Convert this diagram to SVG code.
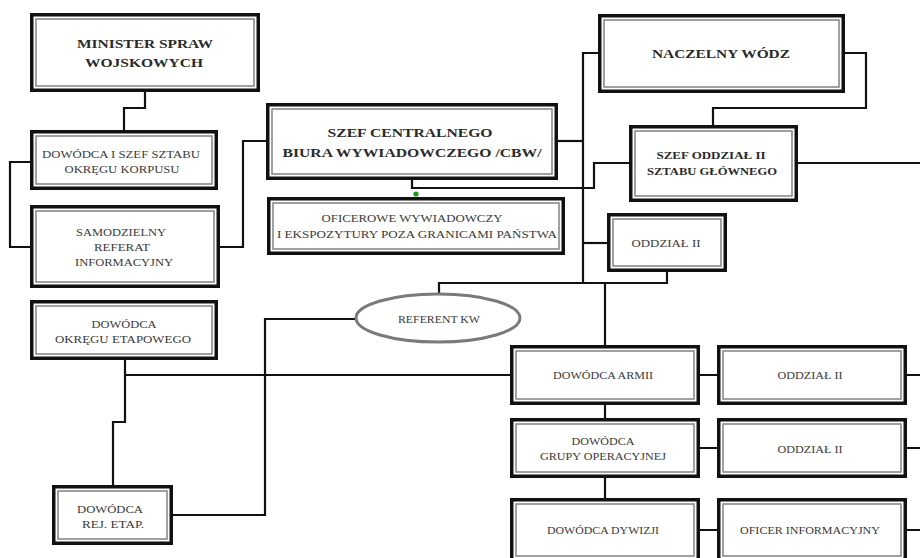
<svg xmlns="http://www.w3.org/2000/svg" width="920" height="558" viewBox="0 0 920 558">
  <style>
    .outer { fill: #ffffff; stroke: #111111; stroke-width: 3.5; }
    .inner { fill: none; stroke: #8a8a8a; stroke-width: 1.6; }
    .conn { fill: none; stroke: #111111; stroke-width: 2.2; stroke-linejoin: miter; }
    .t { font-family: "Liberation Serif", "Times New Roman", serif; font-size: 10.5px; fill: #3a3a3a; text-anchor: middle; }
    .b { font-weight: bold; font-size: 13px; fill: #2a2a2a; }
    .bs { font-weight: bold; font-size: 11px; fill: #2a2a2a; }
    .oval { fill: #ffffff; stroke: #7a7a7a; stroke-width: 3; }
  </style>

  <rect width="920" height="558" fill="#ffffff"/>

  <!-- connectors -->
  <g id="connectors">
    <path class="conn" d="M145,92 V108 H124 V130"/>
    <path class="conn" d="M30,162 H10 V247 H30"/>
    <path class="conn" d="M220,247 H243 V141 H266"/>
    <path class="conn" d="M558,141 H583"/>
    <path class="conn" d="M598,53 H583 V283"/>
    <path class="conn" d="M583,243 H607"/>
    <path class="conn" d="M845,53 H866 V108 H713 V125"/>
    <path class="conn" d="M798,163 H920"/>
    <path class="conn" d="M629,163 H594 V188 H412 V180"/>
    <path class="conn" d="M439,294 V283 H667 V272"/>
    <path class="conn" d="M605,283 V345"/>
    <path class="conn" d="M125,360 V422 H113 V485"/>
    <path class="conn" d="M125,375 H510"/>
    <path class="conn" d="M173,515 H265 V319 H356"/>
    <path class="conn" d="M700,375 H717 M907,375 H920"/>
    <path class="conn" d="M605,405 V418"/>
    <path class="conn" d="M700,448 H717 M907,448 H920"/>
    <path class="conn" d="M605,478 V498"/>
    <path class="conn" d="M700,530 H717 M907,530 H920"/>
    <circle cx="416" cy="194" r="2.6" fill="#1a9a1a"/>
  </g>

  <g id="minister">
    <rect class="outer" x="31.75" y="14.75" width="226.5" height="75.5"/>
    <rect class="inner" x="36" y="19" width="218" height="67"/>
    <text class="t b" x="145" y="48" textLength="136" lengthAdjust="spacingAndGlyphs">MINISTER SPRAW</text>
    <text class="t b" x="144" y="67" textLength="118" lengthAdjust="spacingAndGlyphs">WOJSKOWYCH</text>
  </g>

  <g id="dowodca-korpus">
    <rect class="outer" x="31.75" y="131.75" width="184.5" height="56.5"/>
    <rect class="inner" x="36" y="136" width="176" height="48"/>
    <text class="t" x="121" y="158" textLength="158" lengthAdjust="spacingAndGlyphs">DOWÓDCA I SZEF SZTABU</text>
    <text class="t" x="122" y="173" textLength="115" lengthAdjust="spacingAndGlyphs">OKRĘGU KORPUSU</text>
  </g>

  <g id="samodzielny-referat">
    <rect class="outer" x="31.75" y="206.75" width="186.5" height="79.5"/>
    <rect class="inner" x="36" y="211" width="178" height="71"/>
    <text class="t" x="121" y="236" textLength="90" lengthAdjust="spacingAndGlyphs">SAMODZIELNY</text>
    <text class="t" x="122" y="251" textLength="56" lengthAdjust="spacingAndGlyphs">REFERAT</text>
    <text class="t" x="124" y="266" textLength="98" lengthAdjust="spacingAndGlyphs">INFORMACYJNY</text>
  </g>

  <g id="dowodca-okregu-etapowego">
    <rect class="outer" x="31.75" y="301.75" width="184.5" height="56.5"/>
    <rect class="inner" x="36" y="306" width="176" height="48"/>
    <text class="t" x="124" y="328" textLength="65" lengthAdjust="spacingAndGlyphs">DOWÓDCA</text>
    <text class="t" x="123" y="343" textLength="136" lengthAdjust="spacingAndGlyphs">OKRĘGU ETAPOWEGO</text>
  </g>

  <g id="dowodca-rej-etap">
    <rect class="outer" x="53.75" y="486.75" width="117.5" height="56.5"/>
    <rect class="inner" x="58" y="491" width="109" height="48"/>
    <text class="t" x="110" y="513" textLength="66" lengthAdjust="spacingAndGlyphs">DOWÓDCA</text>
    <text class="t" x="113" y="528" textLength="62" lengthAdjust="spacingAndGlyphs">REJ. ETAP.</text>
  </g>

  <g id="szef-cbw">
    <rect class="outer" x="267.75" y="104.75" width="288.5" height="73.5"/>
    <rect class="inner" x="272" y="109" width="280" height="65"/>
    <text class="t b" x="410" y="137" textLength="165" lengthAdjust="spacingAndGlyphs">SZEF CENTRALNEGO</text>
    <text class="t b" x="412" y="157" textLength="259" lengthAdjust="spacingAndGlyphs">BIURA WYWIADOWCZEGO /CBW/</text>
  </g>

  <g id="oficerowie-wywiadowczy">
    <rect class="outer" x="268.75" y="198.75" width="294.5" height="54.5"/>
    <rect class="inner" x="273" y="203" width="286" height="46"/>
    <text class="t" x="412" y="222" textLength="181" lengthAdjust="spacingAndGlyphs">OFICEROWE WYWIADOWCZY</text>
    <text class="t" x="417" y="238" textLength="280" lengthAdjust="spacingAndGlyphs">I EKSPOZYTURY  POZA GRANICAMI PAŃSTWA</text>
  </g>

  <g id="naczelny-wodz">
    <rect class="outer" x="599.75" y="15.75" width="243.5" height="75.5"/>
    <rect class="inner" x="604" y="20" width="235" height="67"/>
    <text class="t b" x="721" y="58" textLength="138" lengthAdjust="spacingAndGlyphs">NACZELNY WÓDZ</text>
  </g>

  <g id="szef-oddzialu-ii">
    <rect class="outer" x="630.75" y="126.75" width="165.5" height="73.5"/>
    <rect class="inner" x="635" y="131" width="157" height="65"/>
    <text class="t bs" x="711" y="159" textLength="109" lengthAdjust="spacingAndGlyphs">SZEF ODDZIAŁ  II</text>
    <text class="t bs" x="712" y="175" textLength="130" lengthAdjust="spacingAndGlyphs">SZTABU GŁÓWNEGO</text>
  </g>

  <g id="oddzial-ii">
    <rect class="outer" x="608.75" y="214.75" width="116.5" height="55.5"/>
    <rect class="inner" x="613" y="219" width="108" height="47"/>
    <text class="t" x="666" y="247" textLength="69" lengthAdjust="spacingAndGlyphs">ODDZIAŁ  II</text>
  </g>

  <g id="referent-kw">
    <ellipse class="oval" cx="438" cy="318" rx="82" ry="24"/>
    <text class="t" x="439" y="323" textLength="82" lengthAdjust="spacingAndGlyphs">REFERENT KW</text>
  </g>

  <g id="dowodca-armii">
    <rect class="outer" x="511.75" y="346.75" width="186.5" height="56.5"/>
    <rect class="inner" x="516" y="351" width="178" height="48"/>
    <text class="t" x="603" y="379" textLength="100" lengthAdjust="spacingAndGlyphs">DOWÓDCA ARMII</text>
  </g>

  <g id="oddzial-ii-armii">
    <rect class="outer" x="718.75" y="346.75" width="186.5" height="56.5"/>
    <rect class="inner" x="723" y="351" width="178" height="48"/>
    <text class="t" x="810" y="379" textLength="65" lengthAdjust="spacingAndGlyphs">ODDZIAŁ II</text>
  </g>

  <g id="dowodca-grupy">
    <rect class="outer" x="511.75" y="419.75" width="186.5" height="56.5"/>
    <rect class="inner" x="516" y="424" width="178" height="48"/>
    <text class="t" x="603" y="445" textLength="63" lengthAdjust="spacingAndGlyphs">DOWÓDCA</text>
    <text class="t" x="603" y="460" textLength="126" lengthAdjust="spacingAndGlyphs">GRUPY OPERACYJNEJ</text>
  </g>

  <g id="oddzial-ii-grupy">
    <rect class="outer" x="718.75" y="419.75" width="186.5" height="56.5"/>
    <rect class="inner" x="723" y="424" width="178" height="48"/>
    <text class="t" x="810" y="453" textLength="65" lengthAdjust="spacingAndGlyphs">ODDZIAŁ II</text>
  </g>

  <g id="dowodca-dywizji">
    <rect class="outer" x="511.75" y="499.75" width="186.5" height="60.5"/>
    <rect class="inner" x="516" y="504" width="178" height="52"/>
    <text class="t" x="603" y="534" textLength="112" lengthAdjust="spacingAndGlyphs">DOWÓDCA DYWIZJI</text>
  </g>

  <g id="oficer-informacyjny">
    <rect class="outer" x="718.75" y="499.75" width="186.5" height="60.5"/>
    <rect class="inner" x="723" y="504" width="178" height="52"/>
    <text class="t" x="810" y="534" textLength="140" lengthAdjust="spacingAndGlyphs">OFICER INFORMACYJNY</text>
  </g>
</svg>
